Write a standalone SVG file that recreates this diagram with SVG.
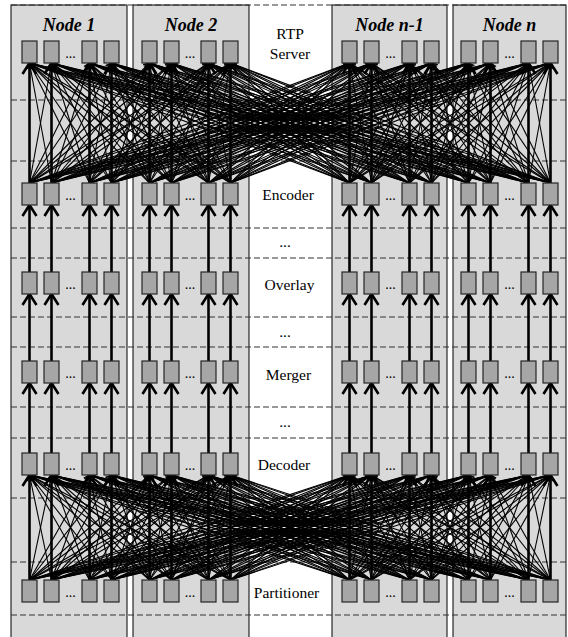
<svg xmlns="http://www.w3.org/2000/svg" width="568" height="637" viewBox="0 0 568 637">
<style>
.lane{fill:#d9d9d9;stroke:#000;stroke-width:1}
.sep{stroke:#333;stroke-width:1.2;stroke-dasharray:6 3;fill:none}
.thin{stroke:#000;stroke-width:1.1;fill:none;marker-end:url(#hs)}
.thick{stroke:#000;stroke-width:2.6;fill:none;marker-end:url(#hb)}
.box{fill:#a6a6a6;stroke:#262626;stroke-width:1.2}
.nl{font-family:"Liberation Serif","Times New Roman",serif;font-size:18px;font-weight:bold;font-style:italic;text-anchor:middle;fill:#000}
.st{font-family:"Liberation Serif","Times New Roman",serif;font-size:15.5px;text-anchor:middle;fill:#000}
.dots{font-family:"Liberation Serif","Times New Roman",serif;font-size:14px;text-anchor:middle;fill:#000}
</style>
<defs>
<marker id="hb" markerUnits="userSpaceOnUse" orient="auto" markerWidth="24" markerHeight="24" refX="12" refY="12" viewBox="0 0 24 24"><path d="M1,5 L12,12 L1,19" fill="none" stroke="#000" stroke-width="2.6"/></marker>
<marker id="hs" markerUnits="userSpaceOnUse" orient="auto" markerWidth="12" markerHeight="12" refX="6" refY="6" viewBox="0 0 12 12"><path d="M0.5,2.5 L6,6 L0.5,9.5" fill="none" stroke="#000" stroke-width="1.1"/></marker>
<rect id="bx" class="box" width="15" height="22"/>
</defs>
<rect width="568" height="637" fill="#fff"/>
<!-- lane backgrounds -->
<g id="lanes">
<rect class="lane" x="11" y="5" width="116" height="640"/>
<rect class="lane" x="133" y="5" width="116" height="640"/>
<rect class="lane" x="332" y="5" width="115" height="640"/>
<rect class="lane" x="453" y="5" width="113" height="640"/>
</g>
<!-- stage separators -->
<g id="separators">
<path class="sep" d="M11 5H566M11 100H566M11 161H566M11 228H566M11 258H566M11 317H566M11 347H566M11 407H566M11 438H566M11 498H566M11 562H566M11 615H566"/>
</g>
<g id="connectors">
<!-- encoder to RTP server: full mesh -->
<g id="mesh-top">
<path class="thin" d="M51.5 183L29.5 63"/><path class="thin" d="M89.5 183L29.5 63"/><path class="thin" d="M111.5 183L29.5 63"/><path class="thin" d="M149.5 183L29.5 63"/><path class="thin" d="M171.5 183L29.5 63"/><path class="thin" d="M208.5 183L29.5 63"/><path class="thin" d="M230.5 183L29.5 63"/><path class="thin" d="M349.5 183L29.5 63"/><path class="thin" d="M371.5 183L29.5 63"/><path class="thin" d="M409.5 183L29.5 63"/><path class="thin" d="M431.5 183L29.5 63"/><path class="thin" d="M468.5 183L29.5 63"/><path class="thin" d="M490.5 183L29.5 63"/><path class="thin" d="M528.5 183L29.5 63"/><path class="thin" d="M550.5 183L29.5 63"/>
<path class="thin" d="M29.5 183L51.5 63"/><path class="thin" d="M89.5 183L51.5 63"/><path class="thin" d="M111.5 183L51.5 63"/><path class="thin" d="M149.5 183L51.5 63"/><path class="thin" d="M171.5 183L51.5 63"/><path class="thin" d="M208.5 183L51.5 63"/><path class="thin" d="M230.5 183L51.5 63"/><path class="thin" d="M349.5 183L51.5 63"/><path class="thin" d="M371.5 183L51.5 63"/><path class="thin" d="M409.5 183L51.5 63"/><path class="thin" d="M431.5 183L51.5 63"/><path class="thin" d="M468.5 183L51.5 63"/><path class="thin" d="M490.5 183L51.5 63"/><path class="thin" d="M528.5 183L51.5 63"/><path class="thin" d="M550.5 183L51.5 63"/>
<path class="thin" d="M29.5 183L89.5 63"/><path class="thin" d="M51.5 183L89.5 63"/><path class="thin" d="M111.5 183L89.5 63"/><path class="thin" d="M149.5 183L89.5 63"/><path class="thin" d="M171.5 183L89.5 63"/><path class="thin" d="M208.5 183L89.5 63"/><path class="thin" d="M230.5 183L89.5 63"/><path class="thin" d="M349.5 183L89.5 63"/><path class="thin" d="M371.5 183L89.5 63"/><path class="thin" d="M409.5 183L89.5 63"/><path class="thin" d="M431.5 183L89.5 63"/><path class="thin" d="M468.5 183L89.5 63"/><path class="thin" d="M490.5 183L89.5 63"/><path class="thin" d="M528.5 183L89.5 63"/><path class="thin" d="M550.5 183L89.5 63"/>
<path class="thin" d="M29.5 183L111.5 63"/><path class="thin" d="M51.5 183L111.5 63"/><path class="thin" d="M89.5 183L111.5 63"/><path class="thin" d="M149.5 183L111.5 63"/><path class="thin" d="M171.5 183L111.5 63"/><path class="thin" d="M208.5 183L111.5 63"/><path class="thin" d="M230.5 183L111.5 63"/><path class="thin" d="M349.5 183L111.5 63"/><path class="thin" d="M371.5 183L111.5 63"/><path class="thin" d="M409.5 183L111.5 63"/><path class="thin" d="M431.5 183L111.5 63"/><path class="thin" d="M468.5 183L111.5 63"/><path class="thin" d="M490.5 183L111.5 63"/><path class="thin" d="M528.5 183L111.5 63"/><path class="thin" d="M550.5 183L111.5 63"/>
<path class="thin" d="M29.5 183L149.5 63"/><path class="thin" d="M51.5 183L149.5 63"/><path class="thin" d="M89.5 183L149.5 63"/><path class="thin" d="M111.5 183L149.5 63"/><path class="thin" d="M171.5 183L149.5 63"/><path class="thin" d="M208.5 183L149.5 63"/><path class="thin" d="M230.5 183L149.5 63"/><path class="thin" d="M349.5 183L149.5 63"/><path class="thin" d="M371.5 183L149.5 63"/><path class="thin" d="M409.5 183L149.5 63"/><path class="thin" d="M431.5 183L149.5 63"/><path class="thin" d="M468.5 183L149.5 63"/><path class="thin" d="M490.5 183L149.5 63"/><path class="thin" d="M528.5 183L149.5 63"/><path class="thin" d="M550.5 183L149.5 63"/>
<path class="thin" d="M29.5 183L171.5 63"/><path class="thin" d="M51.5 183L171.5 63"/><path class="thin" d="M89.5 183L171.5 63"/><path class="thin" d="M111.5 183L171.5 63"/><path class="thin" d="M149.5 183L171.5 63"/><path class="thin" d="M208.5 183L171.5 63"/><path class="thin" d="M230.5 183L171.5 63"/><path class="thin" d="M349.5 183L171.5 63"/><path class="thin" d="M371.5 183L171.5 63"/><path class="thin" d="M409.5 183L171.5 63"/><path class="thin" d="M431.5 183L171.5 63"/><path class="thin" d="M468.5 183L171.5 63"/><path class="thin" d="M490.5 183L171.5 63"/><path class="thin" d="M528.5 183L171.5 63"/><path class="thin" d="M550.5 183L171.5 63"/>
<path class="thin" d="M29.5 183L208.5 63"/><path class="thin" d="M51.5 183L208.5 63"/><path class="thin" d="M89.5 183L208.5 63"/><path class="thin" d="M111.5 183L208.5 63"/><path class="thin" d="M149.5 183L208.5 63"/><path class="thin" d="M171.5 183L208.5 63"/><path class="thin" d="M230.5 183L208.5 63"/><path class="thin" d="M349.5 183L208.5 63"/><path class="thin" d="M371.5 183L208.5 63"/><path class="thin" d="M409.5 183L208.5 63"/><path class="thin" d="M431.5 183L208.5 63"/><path class="thin" d="M468.5 183L208.5 63"/><path class="thin" d="M490.5 183L208.5 63"/><path class="thin" d="M528.5 183L208.5 63"/><path class="thin" d="M550.5 183L208.5 63"/>
<path class="thin" d="M29.5 183L230.5 63"/><path class="thin" d="M51.5 183L230.5 63"/><path class="thin" d="M89.5 183L230.5 63"/><path class="thin" d="M111.5 183L230.5 63"/><path class="thin" d="M149.5 183L230.5 63"/><path class="thin" d="M171.5 183L230.5 63"/><path class="thin" d="M208.5 183L230.5 63"/><path class="thin" d="M349.5 183L230.5 63"/><path class="thin" d="M371.5 183L230.5 63"/><path class="thin" d="M409.5 183L230.5 63"/><path class="thin" d="M431.5 183L230.5 63"/><path class="thin" d="M468.5 183L230.5 63"/><path class="thin" d="M490.5 183L230.5 63"/><path class="thin" d="M528.5 183L230.5 63"/><path class="thin" d="M550.5 183L230.5 63"/>
<path class="thin" d="M29.5 183L349.5 63"/><path class="thin" d="M51.5 183L349.5 63"/><path class="thin" d="M89.5 183L349.5 63"/><path class="thin" d="M111.5 183L349.5 63"/><path class="thin" d="M149.5 183L349.5 63"/><path class="thin" d="M171.5 183L349.5 63"/><path class="thin" d="M208.5 183L349.5 63"/><path class="thin" d="M230.5 183L349.5 63"/><path class="thin" d="M371.5 183L349.5 63"/><path class="thin" d="M409.5 183L349.5 63"/><path class="thin" d="M431.5 183L349.5 63"/><path class="thin" d="M468.5 183L349.5 63"/><path class="thin" d="M490.5 183L349.5 63"/><path class="thin" d="M528.5 183L349.5 63"/><path class="thin" d="M550.5 183L349.5 63"/>
<path class="thin" d="M29.5 183L371.5 63"/><path class="thin" d="M51.5 183L371.5 63"/><path class="thin" d="M89.5 183L371.5 63"/><path class="thin" d="M111.5 183L371.5 63"/><path class="thin" d="M149.5 183L371.5 63"/><path class="thin" d="M171.5 183L371.5 63"/><path class="thin" d="M208.5 183L371.5 63"/><path class="thin" d="M230.5 183L371.5 63"/><path class="thin" d="M349.5 183L371.5 63"/><path class="thin" d="M409.5 183L371.5 63"/><path class="thin" d="M431.5 183L371.5 63"/><path class="thin" d="M468.5 183L371.5 63"/><path class="thin" d="M490.5 183L371.5 63"/><path class="thin" d="M528.5 183L371.5 63"/><path class="thin" d="M550.5 183L371.5 63"/>
<path class="thin" d="M29.5 183L409.5 63"/><path class="thin" d="M51.5 183L409.5 63"/><path class="thin" d="M89.5 183L409.5 63"/><path class="thin" d="M111.5 183L409.5 63"/><path class="thin" d="M149.5 183L409.5 63"/><path class="thin" d="M171.5 183L409.5 63"/><path class="thin" d="M208.5 183L409.5 63"/><path class="thin" d="M230.5 183L409.5 63"/><path class="thin" d="M349.5 183L409.5 63"/><path class="thin" d="M371.5 183L409.5 63"/><path class="thin" d="M431.5 183L409.5 63"/><path class="thin" d="M468.5 183L409.5 63"/><path class="thin" d="M490.5 183L409.5 63"/><path class="thin" d="M528.5 183L409.5 63"/><path class="thin" d="M550.5 183L409.5 63"/>
<path class="thin" d="M29.5 183L431.5 63"/><path class="thin" d="M51.5 183L431.5 63"/><path class="thin" d="M89.5 183L431.5 63"/><path class="thin" d="M111.5 183L431.5 63"/><path class="thin" d="M149.5 183L431.5 63"/><path class="thin" d="M171.5 183L431.5 63"/><path class="thin" d="M208.5 183L431.5 63"/><path class="thin" d="M230.5 183L431.5 63"/><path class="thin" d="M349.5 183L431.5 63"/><path class="thin" d="M371.5 183L431.5 63"/><path class="thin" d="M409.5 183L431.5 63"/><path class="thin" d="M468.5 183L431.5 63"/><path class="thin" d="M490.5 183L431.5 63"/><path class="thin" d="M528.5 183L431.5 63"/><path class="thin" d="M550.5 183L431.5 63"/>
<path class="thin" d="M29.5 183L468.5 63"/><path class="thin" d="M51.5 183L468.5 63"/><path class="thin" d="M89.5 183L468.5 63"/><path class="thin" d="M111.5 183L468.5 63"/><path class="thin" d="M149.5 183L468.5 63"/><path class="thin" d="M171.5 183L468.5 63"/><path class="thin" d="M208.5 183L468.5 63"/><path class="thin" d="M230.5 183L468.5 63"/><path class="thin" d="M349.5 183L468.5 63"/><path class="thin" d="M371.5 183L468.5 63"/><path class="thin" d="M409.5 183L468.5 63"/><path class="thin" d="M431.5 183L468.5 63"/><path class="thin" d="M490.5 183L468.5 63"/><path class="thin" d="M528.5 183L468.5 63"/><path class="thin" d="M550.5 183L468.5 63"/>
<path class="thin" d="M29.5 183L490.5 63"/><path class="thin" d="M51.5 183L490.5 63"/><path class="thin" d="M89.5 183L490.5 63"/><path class="thin" d="M111.5 183L490.5 63"/><path class="thin" d="M149.5 183L490.5 63"/><path class="thin" d="M171.5 183L490.5 63"/><path class="thin" d="M208.5 183L490.5 63"/><path class="thin" d="M230.5 183L490.5 63"/><path class="thin" d="M349.5 183L490.5 63"/><path class="thin" d="M371.5 183L490.5 63"/><path class="thin" d="M409.5 183L490.5 63"/><path class="thin" d="M431.5 183L490.5 63"/><path class="thin" d="M468.5 183L490.5 63"/><path class="thin" d="M528.5 183L490.5 63"/><path class="thin" d="M550.5 183L490.5 63"/>
<path class="thin" d="M29.5 183L528.5 63"/><path class="thin" d="M51.5 183L528.5 63"/><path class="thin" d="M89.5 183L528.5 63"/><path class="thin" d="M111.5 183L528.5 63"/><path class="thin" d="M149.5 183L528.5 63"/><path class="thin" d="M171.5 183L528.5 63"/><path class="thin" d="M208.5 183L528.5 63"/><path class="thin" d="M230.5 183L528.5 63"/><path class="thin" d="M349.5 183L528.5 63"/><path class="thin" d="M371.5 183L528.5 63"/><path class="thin" d="M409.5 183L528.5 63"/><path class="thin" d="M431.5 183L528.5 63"/><path class="thin" d="M468.5 183L528.5 63"/><path class="thin" d="M490.5 183L528.5 63"/><path class="thin" d="M550.5 183L528.5 63"/>
<path class="thin" d="M29.5 183L550.5 63"/><path class="thin" d="M51.5 183L550.5 63"/><path class="thin" d="M89.5 183L550.5 63"/><path class="thin" d="M111.5 183L550.5 63"/><path class="thin" d="M149.5 183L550.5 63"/><path class="thin" d="M171.5 183L550.5 63"/><path class="thin" d="M208.5 183L550.5 63"/><path class="thin" d="M230.5 183L550.5 63"/><path class="thin" d="M349.5 183L550.5 63"/><path class="thin" d="M371.5 183L550.5 63"/><path class="thin" d="M409.5 183L550.5 63"/><path class="thin" d="M431.5 183L550.5 63"/><path class="thin" d="M468.5 183L550.5 63"/><path class="thin" d="M490.5 183L550.5 63"/><path class="thin" d="M528.5 183L550.5 63"/>
</g>
<!-- partitioner to decoder: full mesh -->
<g id="mesh-bottom">
<path class="thin" d="M51.5 580L29.5 475"/><path class="thin" d="M89.5 580L29.5 475"/><path class="thin" d="M111.5 580L29.5 475"/><path class="thin" d="M149.5 580L29.5 475"/><path class="thin" d="M171.5 580L29.5 475"/><path class="thin" d="M208.5 580L29.5 475"/><path class="thin" d="M230.5 580L29.5 475"/><path class="thin" d="M349.5 580L29.5 475"/><path class="thin" d="M371.5 580L29.5 475"/><path class="thin" d="M409.5 580L29.5 475"/><path class="thin" d="M431.5 580L29.5 475"/><path class="thin" d="M468.5 580L29.5 475"/><path class="thin" d="M490.5 580L29.5 475"/><path class="thin" d="M528.5 580L29.5 475"/><path class="thin" d="M550.5 580L29.5 475"/>
<path class="thin" d="M29.5 580L51.5 475"/><path class="thin" d="M89.5 580L51.5 475"/><path class="thin" d="M111.5 580L51.5 475"/><path class="thin" d="M149.5 580L51.5 475"/><path class="thin" d="M171.5 580L51.5 475"/><path class="thin" d="M208.5 580L51.5 475"/><path class="thin" d="M230.5 580L51.5 475"/><path class="thin" d="M349.5 580L51.5 475"/><path class="thin" d="M371.5 580L51.5 475"/><path class="thin" d="M409.5 580L51.5 475"/><path class="thin" d="M431.5 580L51.5 475"/><path class="thin" d="M468.5 580L51.5 475"/><path class="thin" d="M490.5 580L51.5 475"/><path class="thin" d="M528.5 580L51.5 475"/><path class="thin" d="M550.5 580L51.5 475"/>
<path class="thin" d="M29.5 580L89.5 475"/><path class="thin" d="M51.5 580L89.5 475"/><path class="thin" d="M111.5 580L89.5 475"/><path class="thin" d="M149.5 580L89.5 475"/><path class="thin" d="M171.5 580L89.5 475"/><path class="thin" d="M208.5 580L89.5 475"/><path class="thin" d="M230.5 580L89.5 475"/><path class="thin" d="M349.5 580L89.5 475"/><path class="thin" d="M371.5 580L89.5 475"/><path class="thin" d="M409.5 580L89.5 475"/><path class="thin" d="M431.5 580L89.5 475"/><path class="thin" d="M468.5 580L89.5 475"/><path class="thin" d="M490.5 580L89.5 475"/><path class="thin" d="M528.5 580L89.5 475"/><path class="thin" d="M550.5 580L89.5 475"/>
<path class="thin" d="M29.5 580L111.5 475"/><path class="thin" d="M51.5 580L111.5 475"/><path class="thin" d="M89.5 580L111.5 475"/><path class="thin" d="M149.5 580L111.5 475"/><path class="thin" d="M171.5 580L111.5 475"/><path class="thin" d="M208.5 580L111.5 475"/><path class="thin" d="M230.5 580L111.5 475"/><path class="thin" d="M349.5 580L111.5 475"/><path class="thin" d="M371.5 580L111.5 475"/><path class="thin" d="M409.5 580L111.5 475"/><path class="thin" d="M431.5 580L111.5 475"/><path class="thin" d="M468.5 580L111.5 475"/><path class="thin" d="M490.5 580L111.5 475"/><path class="thin" d="M528.5 580L111.5 475"/><path class="thin" d="M550.5 580L111.5 475"/>
<path class="thin" d="M29.5 580L149.5 475"/><path class="thin" d="M51.5 580L149.5 475"/><path class="thin" d="M89.5 580L149.5 475"/><path class="thin" d="M111.5 580L149.5 475"/><path class="thin" d="M171.5 580L149.5 475"/><path class="thin" d="M208.5 580L149.5 475"/><path class="thin" d="M230.5 580L149.5 475"/><path class="thin" d="M349.5 580L149.5 475"/><path class="thin" d="M371.5 580L149.5 475"/><path class="thin" d="M409.5 580L149.5 475"/><path class="thin" d="M431.5 580L149.5 475"/><path class="thin" d="M468.5 580L149.5 475"/><path class="thin" d="M490.5 580L149.5 475"/><path class="thin" d="M528.5 580L149.5 475"/><path class="thin" d="M550.5 580L149.5 475"/>
<path class="thin" d="M29.5 580L171.5 475"/><path class="thin" d="M51.5 580L171.5 475"/><path class="thin" d="M89.5 580L171.5 475"/><path class="thin" d="M111.5 580L171.5 475"/><path class="thin" d="M149.5 580L171.5 475"/><path class="thin" d="M208.5 580L171.5 475"/><path class="thin" d="M230.5 580L171.5 475"/><path class="thin" d="M349.5 580L171.5 475"/><path class="thin" d="M371.5 580L171.5 475"/><path class="thin" d="M409.5 580L171.5 475"/><path class="thin" d="M431.5 580L171.5 475"/><path class="thin" d="M468.5 580L171.5 475"/><path class="thin" d="M490.5 580L171.5 475"/><path class="thin" d="M528.5 580L171.5 475"/><path class="thin" d="M550.5 580L171.5 475"/>
<path class="thin" d="M29.5 580L208.5 475"/><path class="thin" d="M51.5 580L208.5 475"/><path class="thin" d="M89.5 580L208.5 475"/><path class="thin" d="M111.5 580L208.5 475"/><path class="thin" d="M149.5 580L208.5 475"/><path class="thin" d="M171.5 580L208.5 475"/><path class="thin" d="M230.5 580L208.5 475"/><path class="thin" d="M349.5 580L208.5 475"/><path class="thin" d="M371.5 580L208.5 475"/><path class="thin" d="M409.5 580L208.5 475"/><path class="thin" d="M431.5 580L208.5 475"/><path class="thin" d="M468.5 580L208.5 475"/><path class="thin" d="M490.5 580L208.5 475"/><path class="thin" d="M528.5 580L208.5 475"/><path class="thin" d="M550.5 580L208.5 475"/>
<path class="thin" d="M29.5 580L230.5 475"/><path class="thin" d="M51.5 580L230.5 475"/><path class="thin" d="M89.5 580L230.5 475"/><path class="thin" d="M111.5 580L230.5 475"/><path class="thin" d="M149.5 580L230.5 475"/><path class="thin" d="M171.5 580L230.5 475"/><path class="thin" d="M208.5 580L230.5 475"/><path class="thin" d="M349.5 580L230.5 475"/><path class="thin" d="M371.5 580L230.5 475"/><path class="thin" d="M409.5 580L230.5 475"/><path class="thin" d="M431.5 580L230.5 475"/><path class="thin" d="M468.5 580L230.5 475"/><path class="thin" d="M490.5 580L230.5 475"/><path class="thin" d="M528.5 580L230.5 475"/><path class="thin" d="M550.5 580L230.5 475"/>
<path class="thin" d="M29.5 580L349.5 475"/><path class="thin" d="M51.5 580L349.5 475"/><path class="thin" d="M89.5 580L349.5 475"/><path class="thin" d="M111.5 580L349.5 475"/><path class="thin" d="M149.5 580L349.5 475"/><path class="thin" d="M171.5 580L349.5 475"/><path class="thin" d="M208.5 580L349.5 475"/><path class="thin" d="M230.5 580L349.5 475"/><path class="thin" d="M371.5 580L349.5 475"/><path class="thin" d="M409.5 580L349.5 475"/><path class="thin" d="M431.5 580L349.5 475"/><path class="thin" d="M468.5 580L349.5 475"/><path class="thin" d="M490.5 580L349.5 475"/><path class="thin" d="M528.5 580L349.5 475"/><path class="thin" d="M550.5 580L349.5 475"/>
<path class="thin" d="M29.5 580L371.5 475"/><path class="thin" d="M51.5 580L371.5 475"/><path class="thin" d="M89.5 580L371.5 475"/><path class="thin" d="M111.5 580L371.5 475"/><path class="thin" d="M149.5 580L371.5 475"/><path class="thin" d="M171.5 580L371.5 475"/><path class="thin" d="M208.5 580L371.5 475"/><path class="thin" d="M230.5 580L371.5 475"/><path class="thin" d="M349.5 580L371.5 475"/><path class="thin" d="M409.5 580L371.5 475"/><path class="thin" d="M431.5 580L371.5 475"/><path class="thin" d="M468.5 580L371.5 475"/><path class="thin" d="M490.5 580L371.5 475"/><path class="thin" d="M528.5 580L371.5 475"/><path class="thin" d="M550.5 580L371.5 475"/>
<path class="thin" d="M29.5 580L409.5 475"/><path class="thin" d="M51.5 580L409.5 475"/><path class="thin" d="M89.5 580L409.5 475"/><path class="thin" d="M111.5 580L409.5 475"/><path class="thin" d="M149.5 580L409.5 475"/><path class="thin" d="M171.5 580L409.5 475"/><path class="thin" d="M208.5 580L409.5 475"/><path class="thin" d="M230.5 580L409.5 475"/><path class="thin" d="M349.5 580L409.5 475"/><path class="thin" d="M371.5 580L409.5 475"/><path class="thin" d="M431.5 580L409.5 475"/><path class="thin" d="M468.5 580L409.5 475"/><path class="thin" d="M490.5 580L409.5 475"/><path class="thin" d="M528.5 580L409.5 475"/><path class="thin" d="M550.5 580L409.5 475"/>
<path class="thin" d="M29.5 580L431.5 475"/><path class="thin" d="M51.5 580L431.5 475"/><path class="thin" d="M89.5 580L431.5 475"/><path class="thin" d="M111.5 580L431.5 475"/><path class="thin" d="M149.5 580L431.5 475"/><path class="thin" d="M171.5 580L431.5 475"/><path class="thin" d="M208.5 580L431.5 475"/><path class="thin" d="M230.5 580L431.5 475"/><path class="thin" d="M349.5 580L431.5 475"/><path class="thin" d="M371.5 580L431.5 475"/><path class="thin" d="M409.5 580L431.5 475"/><path class="thin" d="M468.5 580L431.5 475"/><path class="thin" d="M490.5 580L431.5 475"/><path class="thin" d="M528.5 580L431.5 475"/><path class="thin" d="M550.5 580L431.5 475"/>
<path class="thin" d="M29.5 580L468.5 475"/><path class="thin" d="M51.5 580L468.5 475"/><path class="thin" d="M89.5 580L468.5 475"/><path class="thin" d="M111.5 580L468.5 475"/><path class="thin" d="M149.5 580L468.5 475"/><path class="thin" d="M171.5 580L468.5 475"/><path class="thin" d="M208.5 580L468.5 475"/><path class="thin" d="M230.5 580L468.5 475"/><path class="thin" d="M349.5 580L468.5 475"/><path class="thin" d="M371.5 580L468.5 475"/><path class="thin" d="M409.5 580L468.5 475"/><path class="thin" d="M431.5 580L468.5 475"/><path class="thin" d="M490.5 580L468.5 475"/><path class="thin" d="M528.5 580L468.5 475"/><path class="thin" d="M550.5 580L468.5 475"/>
<path class="thin" d="M29.5 580L490.5 475"/><path class="thin" d="M51.5 580L490.5 475"/><path class="thin" d="M89.5 580L490.5 475"/><path class="thin" d="M111.5 580L490.5 475"/><path class="thin" d="M149.5 580L490.5 475"/><path class="thin" d="M171.5 580L490.5 475"/><path class="thin" d="M208.5 580L490.5 475"/><path class="thin" d="M230.5 580L490.5 475"/><path class="thin" d="M349.5 580L490.5 475"/><path class="thin" d="M371.5 580L490.5 475"/><path class="thin" d="M409.5 580L490.5 475"/><path class="thin" d="M431.5 580L490.5 475"/><path class="thin" d="M468.5 580L490.5 475"/><path class="thin" d="M528.5 580L490.5 475"/><path class="thin" d="M550.5 580L490.5 475"/>
<path class="thin" d="M29.5 580L528.5 475"/><path class="thin" d="M51.5 580L528.5 475"/><path class="thin" d="M89.5 580L528.5 475"/><path class="thin" d="M111.5 580L528.5 475"/><path class="thin" d="M149.5 580L528.5 475"/><path class="thin" d="M171.5 580L528.5 475"/><path class="thin" d="M208.5 580L528.5 475"/><path class="thin" d="M230.5 580L528.5 475"/><path class="thin" d="M349.5 580L528.5 475"/><path class="thin" d="M371.5 580L528.5 475"/><path class="thin" d="M409.5 580L528.5 475"/><path class="thin" d="M431.5 580L528.5 475"/><path class="thin" d="M468.5 580L528.5 475"/><path class="thin" d="M490.5 580L528.5 475"/><path class="thin" d="M550.5 580L528.5 475"/>
<path class="thin" d="M29.5 580L550.5 475"/><path class="thin" d="M51.5 580L550.5 475"/><path class="thin" d="M89.5 580L550.5 475"/><path class="thin" d="M111.5 580L550.5 475"/><path class="thin" d="M149.5 580L550.5 475"/><path class="thin" d="M171.5 580L550.5 475"/><path class="thin" d="M208.5 580L550.5 475"/><path class="thin" d="M230.5 580L550.5 475"/><path class="thin" d="M349.5 580L550.5 475"/><path class="thin" d="M371.5 580L550.5 475"/><path class="thin" d="M409.5 580L550.5 475"/><path class="thin" d="M431.5 580L550.5 475"/><path class="thin" d="M468.5 580L550.5 475"/><path class="thin" d="M490.5 580L550.5 475"/><path class="thin" d="M528.5 580L550.5 475"/>
</g>
<!-- straight stage-to-stage arrows -->
<g id="straight">
<path class="thick" d="M29.5 183V63"/><path class="thick" d="M51.5 183V63"/><path class="thick" d="M89.5 183V63"/><path class="thick" d="M111.5 183V63"/><path class="thick" d="M149.5 183V63"/><path class="thick" d="M171.5 183V63"/><path class="thick" d="M208.5 183V63"/><path class="thick" d="M230.5 183V63"/><path class="thick" d="M349.5 183V63"/><path class="thick" d="M371.5 183V63"/><path class="thick" d="M409.5 183V63"/><path class="thick" d="M431.5 183V63"/><path class="thick" d="M468.5 183V63"/><path class="thick" d="M490.5 183V63"/><path class="thick" d="M528.5 183V63"/><path class="thick" d="M550.5 183V63"/>
<path class="thick" d="M29.5 272V205"/><path class="thick" d="M51.5 272V205"/><path class="thick" d="M89.5 272V205"/><path class="thick" d="M111.5 272V205"/><path class="thick" d="M149.5 272V205"/><path class="thick" d="M171.5 272V205"/><path class="thick" d="M208.5 272V205"/><path class="thick" d="M230.5 272V205"/><path class="thick" d="M349.5 272V205"/><path class="thick" d="M371.5 272V205"/><path class="thick" d="M409.5 272V205"/><path class="thick" d="M431.5 272V205"/><path class="thick" d="M468.5 272V205"/><path class="thick" d="M490.5 272V205"/><path class="thick" d="M528.5 272V205"/><path class="thick" d="M550.5 272V205"/>
<path class="thick" d="M29.5 361V294"/><path class="thick" d="M51.5 361V294"/><path class="thick" d="M89.5 361V294"/><path class="thick" d="M111.5 361V294"/><path class="thick" d="M149.5 361V294"/><path class="thick" d="M171.5 361V294"/><path class="thick" d="M208.5 361V294"/><path class="thick" d="M230.5 361V294"/><path class="thick" d="M349.5 361V294"/><path class="thick" d="M371.5 361V294"/><path class="thick" d="M409.5 361V294"/><path class="thick" d="M431.5 361V294"/><path class="thick" d="M468.5 361V294"/><path class="thick" d="M490.5 361V294"/><path class="thick" d="M528.5 361V294"/><path class="thick" d="M550.5 361V294"/>
<path class="thick" d="M29.5 453V383"/><path class="thick" d="M51.5 453V383"/><path class="thick" d="M89.5 453V383"/><path class="thick" d="M111.5 453V383"/><path class="thick" d="M149.5 453V383"/><path class="thick" d="M171.5 453V383"/><path class="thick" d="M208.5 453V383"/><path class="thick" d="M230.5 453V383"/><path class="thick" d="M349.5 453V383"/><path class="thick" d="M371.5 453V383"/><path class="thick" d="M409.5 453V383"/><path class="thick" d="M431.5 453V383"/><path class="thick" d="M468.5 453V383"/><path class="thick" d="M490.5 453V383"/><path class="thick" d="M528.5 453V383"/><path class="thick" d="M550.5 453V383"/>
<path class="thick" d="M29.5 580V475"/><path class="thick" d="M51.5 580V475"/><path class="thick" d="M89.5 580V475"/><path class="thick" d="M111.5 580V475"/><path class="thick" d="M149.5 580V475"/><path class="thick" d="M171.5 580V475"/><path class="thick" d="M208.5 580V475"/><path class="thick" d="M230.5 580V475"/><path class="thick" d="M349.5 580V475"/><path class="thick" d="M371.5 580V475"/><path class="thick" d="M409.5 580V475"/><path class="thick" d="M431.5 580V475"/><path class="thick" d="M468.5 580V475"/><path class="thick" d="M490.5 580V475"/><path class="thick" d="M528.5 580V475"/><path class="thick" d="M550.5 580V475"/>
</g>
</g>
<g id="node-1">
<text class="nl" x="69" y="31">Node 1</text>
<use href="#bx" x="22" y="41"/><use href="#bx" x="44" y="41"/><use href="#bx" x="82" y="41"/><use href="#bx" x="104" y="41"/>
<use href="#bx" x="22" y="183"/><use href="#bx" x="44" y="183"/><use href="#bx" x="82" y="183"/><use href="#bx" x="104" y="183"/>
<use href="#bx" x="22" y="272"/><use href="#bx" x="44" y="272"/><use href="#bx" x="82" y="272"/><use href="#bx" x="104" y="272"/>
<use href="#bx" x="22" y="361"/><use href="#bx" x="44" y="361"/><use href="#bx" x="82" y="361"/><use href="#bx" x="104" y="361"/>
<use href="#bx" x="22" y="453"/><use href="#bx" x="44" y="453"/><use href="#bx" x="82" y="453"/><use href="#bx" x="104" y="453"/>
<use href="#bx" x="22" y="580"/><use href="#bx" x="44" y="580"/><use href="#bx" x="82" y="580"/><use href="#bx" x="104" y="580"/>
<text class="dots" x="70.5" y="58">...</text><text class="dots" x="70.5" y="200">...</text><text class="dots" x="70.5" y="289">...</text><text class="dots" x="70.5" y="378">...</text><text class="dots" x="70.5" y="470">...</text><text class="dots" x="70.5" y="597">...</text>
</g>
<g id="node-2">
<text class="nl" x="191" y="31">Node 2</text>
<use href="#bx" x="142" y="41"/><use href="#bx" x="164" y="41"/><use href="#bx" x="201" y="41"/><use href="#bx" x="223" y="41"/>
<use href="#bx" x="142" y="183"/><use href="#bx" x="164" y="183"/><use href="#bx" x="201" y="183"/><use href="#bx" x="223" y="183"/>
<use href="#bx" x="142" y="272"/><use href="#bx" x="164" y="272"/><use href="#bx" x="201" y="272"/><use href="#bx" x="223" y="272"/>
<use href="#bx" x="142" y="361"/><use href="#bx" x="164" y="361"/><use href="#bx" x="201" y="361"/><use href="#bx" x="223" y="361"/>
<use href="#bx" x="142" y="453"/><use href="#bx" x="164" y="453"/><use href="#bx" x="201" y="453"/><use href="#bx" x="223" y="453"/>
<use href="#bx" x="142" y="580"/><use href="#bx" x="164" y="580"/><use href="#bx" x="201" y="580"/><use href="#bx" x="223" y="580"/>
<text class="dots" x="190" y="58">...</text><text class="dots" x="190" y="200">...</text><text class="dots" x="190" y="289">...</text><text class="dots" x="190" y="378">...</text><text class="dots" x="190" y="470">...</text><text class="dots" x="190" y="597">...</text>
</g>
<g id="node-n-1">
<text class="nl" x="389.5" y="31">Node n-1</text>
<use href="#bx" x="342" y="41"/><use href="#bx" x="364" y="41"/><use href="#bx" x="402" y="41"/><use href="#bx" x="424" y="41"/>
<use href="#bx" x="342" y="183"/><use href="#bx" x="364" y="183"/><use href="#bx" x="402" y="183"/><use href="#bx" x="424" y="183"/>
<use href="#bx" x="342" y="272"/><use href="#bx" x="364" y="272"/><use href="#bx" x="402" y="272"/><use href="#bx" x="424" y="272"/>
<use href="#bx" x="342" y="361"/><use href="#bx" x="364" y="361"/><use href="#bx" x="402" y="361"/><use href="#bx" x="424" y="361"/>
<use href="#bx" x="342" y="453"/><use href="#bx" x="364" y="453"/><use href="#bx" x="402" y="453"/><use href="#bx" x="424" y="453"/>
<use href="#bx" x="342" y="580"/><use href="#bx" x="364" y="580"/><use href="#bx" x="402" y="580"/><use href="#bx" x="424" y="580"/>
<text class="dots" x="390.5" y="58">...</text><text class="dots" x="390.5" y="200">...</text><text class="dots" x="390.5" y="289">...</text><text class="dots" x="390.5" y="378">...</text><text class="dots" x="390.5" y="470">...</text><text class="dots" x="390.5" y="597">...</text>
</g>
<g id="node-n">
<text class="nl" x="509.5" y="31">Node n</text>
<use href="#bx" x="461" y="41"/><use href="#bx" x="483" y="41"/><use href="#bx" x="521" y="41"/><use href="#bx" x="543" y="41"/>
<use href="#bx" x="461" y="183"/><use href="#bx" x="483" y="183"/><use href="#bx" x="521" y="183"/><use href="#bx" x="543" y="183"/>
<use href="#bx" x="461" y="272"/><use href="#bx" x="483" y="272"/><use href="#bx" x="521" y="272"/><use href="#bx" x="543" y="272"/>
<use href="#bx" x="461" y="361"/><use href="#bx" x="483" y="361"/><use href="#bx" x="521" y="361"/><use href="#bx" x="543" y="361"/>
<use href="#bx" x="461" y="453"/><use href="#bx" x="483" y="453"/><use href="#bx" x="521" y="453"/><use href="#bx" x="543" y="453"/>
<use href="#bx" x="461" y="580"/><use href="#bx" x="483" y="580"/><use href="#bx" x="521" y="580"/><use href="#bx" x="543" y="580"/>
<text class="dots" x="509.5" y="58">...</text><text class="dots" x="509.5" y="200">...</text><text class="dots" x="509.5" y="289">...</text><text class="dots" x="509.5" y="378">...</text><text class="dots" x="509.5" y="470">...</text><text class="dots" x="509.5" y="597">...</text>
</g>
<!-- stage names in the centre column -->
<g id="stages">
<text class="st" x="290" y="39">RTP</text>
<text class="st" x="290" y="59">Server</text>
<text class="st" x="288" y="200">Encoder</text>
<text class="st" x="285" y="247">...</text>
<text class="st" x="289.5" y="290">Overlay</text>
<text class="st" x="285" y="337">...</text>
<text class="st" x="288.5" y="380">Merger</text>
<text class="st" x="285" y="427">...</text>
<text class="st" x="284" y="470">Decoder</text>
<text class="st" x="286.5" y="598">Partitioner</text>
</g>
</svg>
